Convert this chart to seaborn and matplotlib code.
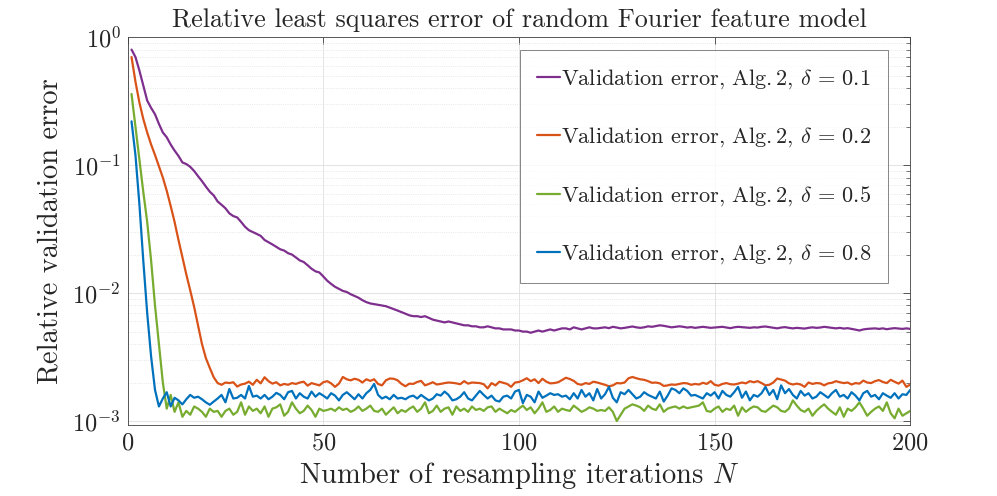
import matplotlib
matplotlib.use("Agg")
import matplotlib.pyplot as plt
import matplotlib.ticker as mticker
import numpy as np
import pandas as pd
import seaborn as sns

# resampling iterations N = 1..200
iterations = list(range(1, 201))

err_d01 = [
    0.80, 0.70, 0.55, 0.42, 0.32, 0.28, 0.25, 0.21, 0.18, 0.165,
    0.145, 0.13, 0.118, 0.105, 0.102, 0.097, 0.090, 0.082, 0.075, 0.068,
    0.062, 0.058, 0.052, 0.049, 0.046, 0.042, 0.040, 0.039, 0.036, 0.033,
    0.031, 0.030, 0.029, 0.028, 0.026, 0.025, 0.024, 0.023, 0.022, 0.0215,
    0.0205, 0.020, 0.019, 0.018, 0.0175, 0.0165, 0.0155, 0.0148, 0.0145, 0.0135,
    0.0125, 0.0118, 0.0112, 0.0108, 0.0104, 0.0102, 0.0098, 0.0095, 0.0092, 0.0088,
    0.0085, 0.0083, 0.0082, 0.0081, 0.0080, 0.0079, 0.0077, 0.0075, 0.0073, 0.0071,
    0.0069, 0.0067, 0.0066, 0.0066, 0.0065, 0.0066, 0.0064, 0.0062, 0.0061, 0.0060,
    0.0059, 0.0060, 0.0059, 0.0058, 0.0057, 0.0056, 0.0056, 0.0055, 0.0055, 0.0054,
    0.0054, 0.0055, 0.0054, 0.0053, 0.0053, 0.0052, 0.0052, 0.0052, 0.0051, 0.0051,
    0.0050, 0.0050, 0.0049, 0.0050, 0.0051, 0.0050, 0.0051, 0.0052, 0.0051, 0.0052,
    0.0053, 0.0053, 0.0052, 0.0054, 0.0053, 0.0052, 0.0053, 0.0054, 0.0053, 0.0053,
    0.00535, 0.00540, 0.00532, 0.00545, 0.00538, 0.00530, 0.00535, 0.00542, 0.00548, 0.00540,
    0.00535, 0.00540, 0.00550, 0.00545, 0.00552, 0.00560, 0.00555, 0.00548, 0.00540, 0.00545,
    0.00550, 0.00545, 0.00538, 0.00542, 0.00535, 0.00540, 0.00545, 0.00540, 0.00535, 0.00538,
    0.00540, 0.00545, 0.00538, 0.00532, 0.00540, 0.00545, 0.00542, 0.00538, 0.00535, 0.00540,
    0.00538, 0.00545, 0.00548, 0.00542, 0.00535, 0.00530, 0.00538, 0.00542, 0.00535, 0.00530,
    0.00535, 0.00532, 0.00528, 0.00535, 0.00540, 0.00535, 0.00538, 0.00545, 0.00540, 0.00535,
    0.00530, 0.00535, 0.00528, 0.00532, 0.00525, 0.00518, 0.00510, 0.00520, 0.00525, 0.00528,
    0.00530, 0.00525, 0.00530, 0.00522, 0.00528, 0.00532, 0.00528, 0.00525, 0.00530, 0.00525,
]

err_d02 = [
    0.70, 0.45, 0.31, 0.23, 0.18, 0.145, 0.12, 0.098, 0.080, 0.063,
    0.048, 0.036, 0.026, 0.019, 0.014, 0.0105, 0.0078, 0.0056, 0.0040, 0.0031,
    0.0026, 0.0022, 0.00198, 0.00192, 0.00200, 0.00198, 0.00201, 0.00186, 0.00193, 0.00196,
    0.00203, 0.00192, 0.00210, 0.00197, 0.00220, 0.00205, 0.00196, 0.00201, 0.00190, 0.00195,
    0.00192, 0.00198, 0.00195, 0.00200, 0.00203, 0.00189, 0.00198, 0.00194, 0.00190, 0.00201,
    0.00205, 0.00197, 0.00185, 0.00196, 0.00221, 0.00212, 0.00208, 0.00214, 0.00210, 0.00200,
    0.00212, 0.00206, 0.00212, 0.00195, 0.00190, 0.00208, 0.00215, 0.00214, 0.00208, 0.00195,
    0.00187, 0.00196, 0.00195, 0.00202, 0.00206, 0.00190, 0.00195, 0.00201, 0.00193, 0.00195,
    0.00198, 0.00200, 0.00199, 0.00197, 0.00194, 0.00205, 0.00196, 0.00200, 0.00199, 0.00198,
    0.00194, 0.00180, 0.00198, 0.00190, 0.00203, 0.00199, 0.00195, 0.00185, 0.00200, 0.00202,
    0.00208, 0.00216, 0.00205, 0.00212, 0.00198, 0.00214, 0.00203, 0.00197, 0.00198, 0.00201,
    0.00209, 0.00218, 0.00213, 0.00206, 0.00195, 0.00192, 0.00198, 0.00195, 0.00203, 0.00200,
    0.00196, 0.00192, 0.00187, 0.00190, 0.00198, 0.00197, 0.00200, 0.00216, 0.00221, 0.00216,
    0.00212, 0.00210, 0.00205, 0.00199, 0.00200, 0.00197, 0.00188, 0.00190, 0.00193, 0.00192,
    0.00195, 0.00198, 0.00197, 0.00192, 0.00195, 0.00193, 0.00199, 0.00195, 0.00205, 0.00192,
    0.00189, 0.00195, 0.00198, 0.00194, 0.00193, 0.00196, 0.00200, 0.00197, 0.00205, 0.00201,
    0.00205, 0.00198, 0.00190, 0.00192, 0.00200, 0.00215, 0.00211, 0.00207, 0.00197, 0.00193,
    0.00196, 0.00193, 0.00185, 0.00200, 0.00195, 0.00198, 0.00197, 0.00190, 0.00197, 0.00199,
    0.00205, 0.00201, 0.00198, 0.00200, 0.00193, 0.00198, 0.00196, 0.00207, 0.00200, 0.00198,
    0.00205, 0.00209, 0.00202, 0.00198, 0.00210, 0.00203, 0.00196, 0.00207, 0.00185, 0.00193,
]

err_d05 = [
    0.36, 0.20, 0.11, 0.062, 0.036, 0.018, 0.0080, 0.0040, 0.0020, 0.00125,
    0.00160, 0.00118, 0.00140, 0.00108, 0.00120, 0.00112, 0.00130, 0.00125, 0.00118, 0.00108,
    0.00125, 0.00118, 0.00120, 0.00108, 0.00120, 0.00125, 0.00112, 0.00118, 0.00140, 0.00112,
    0.00130, 0.00120, 0.00125, 0.00115, 0.00130, 0.00108, 0.00125, 0.00128, 0.00135, 0.00110,
    0.00118, 0.00140, 0.00125, 0.00115, 0.00120, 0.00132, 0.00122, 0.00108, 0.00125, 0.00120,
    0.00122, 0.00125, 0.00120, 0.00128, 0.00122, 0.00125, 0.00118, 0.00122, 0.00130, 0.00120,
    0.00125, 0.00132, 0.00120, 0.00118, 0.00125, 0.00112, 0.00120, 0.00128, 0.00115, 0.00122,
    0.00118, 0.00125, 0.00130, 0.00118, 0.00125, 0.00140, 0.00115, 0.00120, 0.00132, 0.00118,
    0.00125, 0.00128, 0.00112, 0.00130, 0.00120, 0.00125, 0.00118, 0.00130, 0.00122, 0.00125,
    0.00120, 0.00128, 0.00130, 0.00118, 0.00125, 0.00120, 0.00115, 0.00122, 0.00118, 0.00125,
    0.00132, 0.00122, 0.00128, 0.00115, 0.00125, 0.00140, 0.00118, 0.00122, 0.00130, 0.00118,
    0.00125, 0.00122, 0.00120, 0.00132, 0.00125, 0.00118, 0.00122, 0.00128, 0.00125, 0.00120,
    0.00122, 0.00120, 0.00128, 0.00118, 0.00100, 0.00112, 0.00125, 0.00130, 0.00135, 0.00132,
    0.00128, 0.00120, 0.00132, 0.00125, 0.00122, 0.00135, 0.00118, 0.00125, 0.00128, 0.00130,
    0.00125, 0.00130, 0.00126, 0.00128, 0.00130, 0.00132, 0.00140, 0.00120, 0.00118, 0.00125,
    0.00130, 0.00118, 0.00125, 0.00122, 0.00132, 0.00110, 0.00128, 0.00118, 0.00125, 0.00130,
    0.00128, 0.00120, 0.00118, 0.00125, 0.00132, 0.00128, 0.00120, 0.00118, 0.00125, 0.00145,
    0.00132, 0.00122, 0.00118, 0.00125, 0.00110, 0.00120, 0.00128, 0.00135, 0.00125, 0.00118,
    0.00112, 0.00128, 0.00108, 0.00125, 0.00120, 0.00128, 0.00140, 0.00125, 0.00110, 0.00118,
    0.00125, 0.00130, 0.00120, 0.00140, 0.00115, 0.00105, 0.00125, 0.00110, 0.00115, 0.00120,
]

err_d08 = [
    0.22, 0.120, 0.050, 0.018, 0.0070, 0.0032, 0.00175, 0.00130, 0.00150, 0.00168,
    0.00130, 0.00152, 0.00145, 0.00135, 0.00148, 0.00160, 0.00152, 0.00155, 0.00148, 0.00140,
    0.00134, 0.00142, 0.00150, 0.00160, 0.00140, 0.00178, 0.00150, 0.00152, 0.00160, 0.00150,
    0.00188, 0.00155, 0.00158, 0.00150, 0.00160, 0.00148, 0.00155, 0.00166, 0.00160, 0.00148,
    0.00168, 0.00172, 0.00150, 0.00165, 0.00155, 0.00150, 0.00170, 0.00155, 0.00165, 0.00158,
    0.00150, 0.00165, 0.00158, 0.00145, 0.00160, 0.00168, 0.00158, 0.00148, 0.00162, 0.00150,
    0.00165, 0.00175, 0.00195, 0.00160, 0.00150, 0.00155, 0.00148, 0.00160, 0.00150, 0.00152,
    0.00148, 0.00155, 0.00158, 0.00150, 0.00160, 0.00152, 0.00145, 0.00150, 0.00162, 0.00158,
    0.00170, 0.00160, 0.00145, 0.00148, 0.00155, 0.00168, 0.00150, 0.00145, 0.00158, 0.00172,
    0.00160, 0.00150, 0.00158, 0.00145, 0.00142, 0.00155, 0.00158, 0.00150, 0.00170, 0.00175,
    0.00138, 0.00160, 0.00155, 0.00140, 0.00170, 0.00152, 0.00158, 0.00165, 0.00160, 0.00162,
    0.00155, 0.00158, 0.00148, 0.00165, 0.00150, 0.00175, 0.00155, 0.00165, 0.00145, 0.00178,
    0.00150, 0.00162, 0.00185, 0.00152, 0.00140, 0.00168, 0.00162, 0.00175, 0.00162, 0.00150,
    0.00155, 0.00168, 0.00160, 0.00155, 0.00150, 0.00170, 0.00142, 0.00158, 0.00180, 0.00175,
    0.00165, 0.00180, 0.00172, 0.00158, 0.00160, 0.00155, 0.00150, 0.00165, 0.00158, 0.00168,
    0.00150, 0.00172, 0.00160, 0.00155, 0.00168, 0.00185, 0.00152, 0.00170, 0.00145, 0.00160,
    0.00155, 0.00165, 0.00185, 0.00160, 0.00175, 0.00148, 0.00190, 0.00165, 0.00178, 0.00160,
    0.00150, 0.00172, 0.00158, 0.00165, 0.00150, 0.00155, 0.00168, 0.00160, 0.00152, 0.00165,
    0.00175, 0.00155, 0.00160, 0.00150, 0.00168, 0.00158, 0.00145, 0.00165, 0.00172, 0.00155,
    0.00160, 0.00148, 0.00165, 0.00158, 0.00152, 0.00165, 0.00150, 0.00162, 0.00160, 0.00175,
]

labels = [
    r"Validation error, Alg.$\,$2, $\delta\,=\,0.1$",
    r"Validation error, Alg.$\,$2, $\delta\,=\,0.2$",
    r"Validation error, Alg.$\,$2, $\delta\,=\,0.5$",
    r"Validation error, Alg.$\,$2, $\delta\,=\,0.8$",
]
colors = ["#7E2F8E", "#D95319", "#77AC30", "#0072BD"]

frames = []
for lab, vals in zip(labels, [err_d01, err_d02, err_d05, err_d08]):
    frames.append(pd.DataFrame({"N": iterations, "err": vals, "series": lab}))
df = pd.concat(frames, ignore_index=True)

sns.set_style("white")
plt.rcParams["font.family"] = ["cmr10", "DejaVu Serif"]
plt.rcParams["mathtext.fontset"] = "cm"
plt.rcParams["axes.unicode_minus"] = False
plt.rcParams["axes.formatter.use_mathtext"] = True

fig = plt.figure(figsize=(9.97, 4.96), dpi=100)
ax = fig.add_axes([0.128, 0.143, 0.785, 0.782])

sns.lineplot(data=df, x="N", y="err", hue="series", hue_order=labels,
             palette=colors, linewidth=1.6, ax=ax)

ax.set_yscale("log")
ax.set_xlim(0, 200)
ax.set_ylim(0.93e-3, 1.0)
ax.set_xticks([0, 50, 100, 150, 200])
ax.yaxis.set_major_locator(mticker.LogLocator(base=10, numticks=10))
ax.yaxis.set_minor_locator(mticker.LogLocator(base=10, subs=np.arange(2, 10), numticks=20))
ax.yaxis.set_minor_formatter(mticker.NullFormatter())

ax.grid(True, which="major", color="#dedede", linewidth=0.6)
ax.grid(True, which="minor", axis="y", color="#e2e2e2", linestyle=":", linewidth=0.6)
ax.set_axisbelow(True)

ax.tick_params(which="both", direction="in", top=True, right=True,
               color="#404040", labelsize=17.5)
ax.tick_params(which="major", length=5, width=0.6, pad=5)
ax.tick_params(which="minor", length=3, width=0.5)
for s in ax.spines.values():
    s.set_color("#404040")
    s.set_linewidth(0.6)

ax.set_xlabel(r"Number of resampling iterations $N$", fontsize=20.5, labelpad=4)
ax.set_ylabel("Relative validation error", fontsize=20.5, labelpad=6)
ax.set_title("Relative least squares error of random Fourier feature model",
             fontsize=18.8, pad=7)

leg = ax.legend(loc="upper right", bbox_to_anchor=(0.972, 0.966),
                fontsize=16.1, frameon=True, fancybox=False,
                handlelength=1.05, handletextpad=0.05, labelspacing=1.55,
                borderpad=0.75, borderaxespad=0)
leg.get_frame().set_edgecolor("#505050")
leg.get_frame().set_linewidth(0.6)
for line in leg.get_lines():
    line.set_linewidth(1.6)

fig.savefig("out.png", dpi=100)
